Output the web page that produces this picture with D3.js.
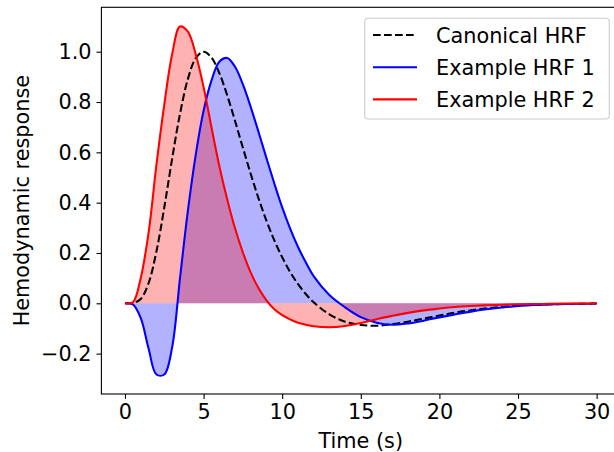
<!DOCTYPE html>
<html>
<head>
<meta charset="utf-8">
<script src="https://cdn.jsdelivr.net/npm/d3@7"></script>
<style>
	body { margin: 0; background: #fff; }
	svg { display: block; font-family: "DejaVu Sans", sans-serif; }
</style>
</head>
<body>
<div id="chart"></div>
<script>
// sample times (s) and values
const timeS = [0, 0.5, 1, 1.5, 2, 2.5, 3, 3.5, 4, 4.5, 5, 5.5, 6, 6.5, 7, 7.5, 8, 8.5, 9, 9.5, 10, 10.5, 11, 11.5, 12,
	13, 14, 15, 16, 17, 18, 19, 20, 21, 22, 23, 24, 25, 26, 27, 28, 29, 30];

const canonical = [0, 0.001, 0.017, 0.080, 0.206, 0.381, 0.575, 0.753, 0.891, 0.974, 1.000, 0.977, 0.915, 0.827, 0.725, 0.618, 0.514, 0.416, 0.328, 0.250, 0.183, 0.125, 0.077, 0.037, 0.004,
	-0.044, -0.073, -0.086, -0.089, -0.083, -0.073, -0.061, -0.049, -0.037, -0.028, -0.020, -0.014, -0.009, -0.006, -0.004, -0.003, -0.002, -0.001];

const example1 = [0, -0.004, -0.058, -0.18, -0.283, -0.283, -0.175, 0.10, 0.367, 0.59, 0.765, 0.885, 0.96, 0.975, 0.94, 0.87, 0.78, 0.68, 0.577, 0.476, 0.381, 0.298, 0.225, 0.163, 0.108,
	0.033, -0.016, -0.055, -0.077, -0.085, -0.080, -0.069, -0.056, -0.044, -0.033, -0.024, -0.017, -0.011, -0.007, -0.005, -0.003, -0.002, -0.001];

const example2 = [0, 0.004, 0.10, 0.28, 0.55, 0.79, 0.99, 1.10, 1.08, 0.99, 0.86, 0.70, 0.546, 0.414, 0.298, 0.202, 0.122, 0.06, 0.012, -0.024, -0.047, -0.064, -0.077, -0.085, -0.091,
	-0.095, -0.09, -0.078, -0.063, -0.05, -0.038, -0.028, -0.021, -0.015, -0.011, -0.008, -0.006, -0.004, -0.003, -0.002, -0.001, -0.001, 0];

const xTicks = [0, 5, 10, 15, 20, 25, 30];
const yTicks = [-0.2, 0.0, 0.2, 0.4, 0.6, 0.8, 1.0];
const legendLabels = ["Canonical HRF", "Example HRF 1", "Example HRF 2"];

const width = 614;
const height = 452;
const fontSize = 20.8;

// the axes box runs past the right edge of the picture (cropped figure)
const box = { left: 101.4, right: 620.2, top: 7.3, bottom: 394 };

const x = d3.scaleLinear().domain([-1.5, 31.5]).range([box.left, box.right]);
const y = d3.scaleLinear().domain([-0.3605, 1.1765]).range([box.bottom, box.top]);

const svg = d3
	.select("#chart")
	.append("svg")
	.attr("width", width)
	.attr("height", height);

svg.append("defs")
	.append("clipPath")
	.attr("id", "plotclip")
	.append("rect")
	.attr("x", box.left)
	.attr("y", box.top)
	.attr("width", box.right - box.left)
	.attr("height", box.bottom - box.top);

const plot = svg.append("g").attr("clip-path", "url(#plotclip)");

const series = (vals) => timeS.map((t, i) => ({ t: t, v: vals[i] }));

const area = d3
	.area()
	.x((d) => x(d.t))
	.y0(y(0))
	.y1((d) => y(d.v))
	.curve(d3.curveCatmullRom.alpha(0.5));

const line = d3
	.line()
	.x((d) => x(d.t))
	.y((d) => y(d.v))
	.curve(d3.curveCatmullRom.alpha(0.5));

// shaded areas between each example and zero
plot.append("path")
	.attr("d", area(series(example1)))
	.attr("fill", "blue")
	.attr("fill-opacity", 0.3);

plot.append("path")
	.attr("d", area(series(example2)))
	.attr("fill", "red")
	.attr("fill-opacity", 0.3);

// lines
plot.append("path")
	.attr("d", line(series(canonical)))
	.attr("fill", "none")
	.attr("stroke", "black")
	.attr("stroke-width", 2.08)
	.attr("stroke-dasharray", "7.7,3.3");

plot.append("path")
	.attr("d", line(series(example1)))
	.attr("fill", "none")
	.attr("stroke", "blue")
	.attr("stroke-width", 2.08);

plot.append("path")
	.attr("d", line(series(example2)))
	.attr("fill", "none")
	.attr("stroke", "red")
	.attr("stroke-width", 2.08);

// spines
svg.append("rect")
	.attr("x", box.left)
	.attr("y", box.top)
	.attr("width", box.right - box.left)
	.attr("height", box.bottom - box.top)
	.attr("fill", "none")
	.attr("stroke", "black")
	.attr("stroke-width", 1.1);

// x axis
const xAxis = svg
	.append("g")
	.attr("transform", `translate(0, ${box.bottom})`)
	.call(d3.axisBottom(x).tickValues(xTicks).tickSizeOuter(0).tickSize(4.9).tickPadding(4.9));

// y axis
const yAxis = svg
	.append("g")
	.attr("transform", `translate(${box.left}, 0)`)
	.call(d3.axisLeft(y).tickValues(yTicks).tickFormat(d3.format(".1f")).tickSizeOuter(0).tickSize(4.9).tickPadding(4.9));

[xAxis, yAxis].forEach((g) => {
	g.select(".domain").remove();
	g.selectAll(".tick line").attr("stroke", "black").attr("stroke-width", 1.1);
	g.selectAll(".tick text")
		.attr("fill", "black")
		.attr("font-size", fontSize)
		.attr("font-family", "DejaVu Sans");
});
xAxis.selectAll(".tick text").attr("dy", "0.73em");

// axis labels
svg.append("text")
	.attr("text-anchor", "middle")
	.attr("x", (box.left + box.right) / 2)
	.attr("y", 447.5)
	.attr("font-size", fontSize)
	.text("Time (s)");

svg.append("text")
	.attr("text-anchor", "middle")
	.attr("transform", `translate(28.5, ${(box.top + box.bottom) / 2}) rotate(-90)`)
	.attr("font-size", fontSize)
	.text("Hemodynamic response");

// legend
const legend = svg.append("g");
legend.append("rect")
	.attr("x", 364.7)
	.attr("y", 18.3)
	.attr("width", 244.6)
	.attr("height", 100.7)
	.attr("rx", 3.5)
	.attr("fill", "white")
	.attr("fill-opacity", 0.8)
	.attr("stroke", "#cccccc")
	.attr("stroke-width", 1.1);

const legendColors = ["black", "blue", "red"];
legendLabels.forEach((label, i) => {
	const ly = 35 + i * 32.2;
	legend.append("line")
		.attr("x1", 373)
		.attr("x2", 417)
		.attr("y1", ly)
		.attr("y2", ly)
		.attr("stroke", legendColors[i])
		.attr("stroke-width", 2.08)
		.attr("stroke-dasharray", i === 0 ? "7.7,3.3" : null);
	legend.append("text")
		.attr("x", 436)
		.attr("y", ly + 7.5)
		.attr("font-size", fontSize)
		.text(label);
});
</script>
</body>
</html>
